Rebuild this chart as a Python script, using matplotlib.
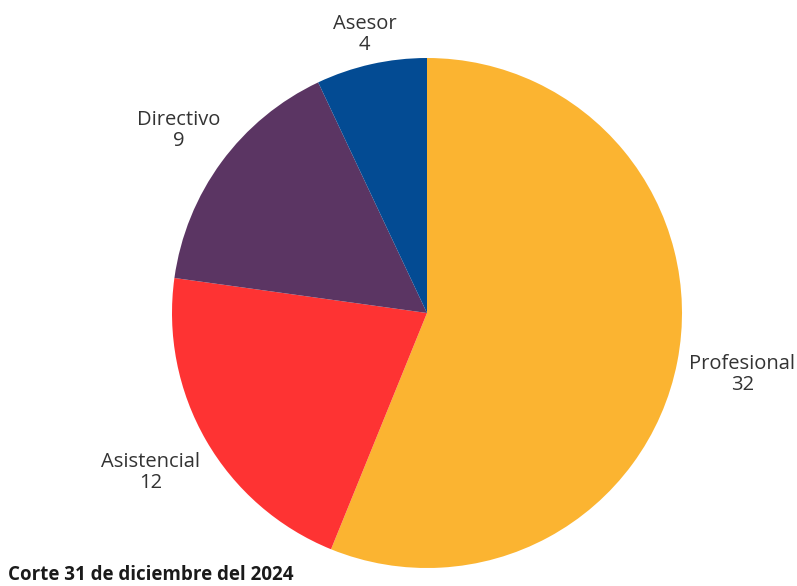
import numpy as np
import matplotlib.pyplot as plt

plt.rcParams["font.family"] = ["Open Sans", "DejaVu Sans"]

categories = ["Profesional", "Asistencial", "Directivo", "Asesor"]
counts = [32, 12, 9, 4]
colors = ["#FBB431", "#FE3333", "#5B3563", "#034B93"]
label_dist = [1.26, 1.25, 1.21, 1.12]

W, H = 797, 586
cx, cy, r = 427, 313, 255

fig = plt.figure(figsize=(W / 100, H / 100), dpi=100)
ax = fig.add_axes([(cx - r) / W, (H - cy - r) / H, 2 * r / W, 2 * r / H])

wedges, _ = ax.pie(counts, colors=colors, startangle=90, counterclock=False,
                   radius=1, wedgeprops=dict(linewidth=0))
ax.set_xlim(-1, 1)
ax.set_ylim(-1, 1)
ax.set_aspect("auto")
ax.axis("off")

for w, name, n, d in zip(wedges, categories, counts, label_dist):
    mid = np.deg2rad((w.theta1 + w.theta2) / 2)
    ax.text(d * np.cos(mid), d * np.sin(mid), f"{name}\n{n}",
            ha="center", va="center", fontsize=14.5, color="#333333",
            linespacing=1.1)

fig.text(8 / W, 1 - 575 / H, "Corte 31 de diciembre del 2024",
         ha="left", va="center", fontsize=13.5, fontweight="bold",
         color="#1a1a1a")

fig.savefig("out.png", dpi=100)
